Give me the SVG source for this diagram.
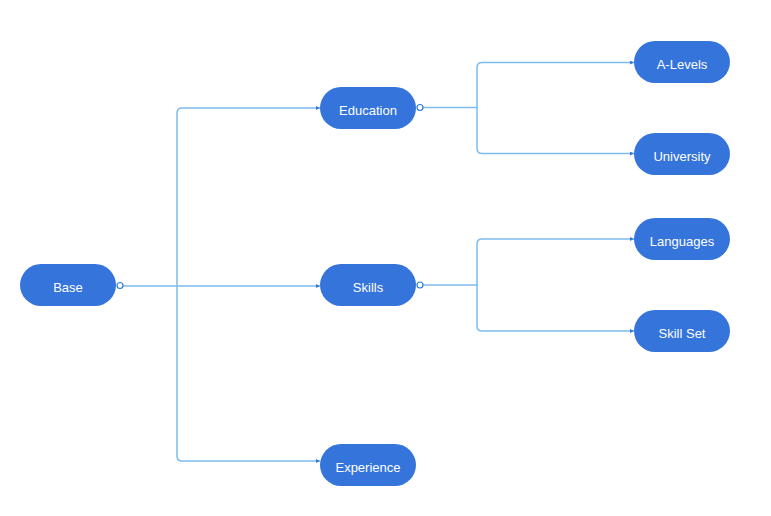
<svg xmlns="http://www.w3.org/2000/svg" width="771" height="516" viewBox="0 0 771 516">
  <style>
    .node rect { fill: #3474db; }
    .node text { fill: #ffffff; font-family: "Liberation Sans", Arial, sans-serif; font-size: 13px; text-anchor: middle; dominant-baseline: central; }
    .link { fill: none; stroke: #7dbbee; stroke-width: 1.5; }
    .port { fill: #ffffff; stroke: #2f7bd9; stroke-width: 1.2; }
  </style>
  <defs>
    <marker id="arrow" viewBox="0 0 6 6" refX="6" refY="3" markerWidth="4" markerHeight="4" orient="auto" markerUnits="userSpaceOnUse">
      <path d="M0,0 L6,3 L0,6 z" fill="#2f7bd9"/>
    </marker>
  </defs>
  <rect width="771" height="516" fill="#ffffff"/>

  <g id="connectors">
    <!-- Base to level 1 -->
    <path class="link" d="M120,286 H320" marker-end="url(#arrow)"/>
    <path class="link" d="M177,286 V113 Q177,108 182,108 H320" marker-end="url(#arrow)"/>
    <path class="link" d="M177,286 V456 Q177,461 182,461 H320" marker-end="url(#arrow)"/>
    <!-- Education to level 2 -->
    <path class="link" d="M420,107.5 H477 V67.5 Q477,62.5 482,62.5 H634" marker-end="url(#arrow)"/>
    <path class="link" d="M477,107.5 V148.5 Q477,153.5 482,153.5 H634" marker-end="url(#arrow)"/>
    <!-- Skills to level 2 -->
    <path class="link" d="M420,285 H477 V244 Q477,239 482,239 H634" marker-end="url(#arrow)"/>
    <path class="link" d="M477,285 V326 Q477,331 482,331 H634" marker-end="url(#arrow)"/>
    <!-- output ports -->
    <circle class="port" cx="120" cy="285.5" r="3"/>
    <circle class="port" cx="420" cy="107.5" r="3"/>
    <circle class="port" cx="420" cy="285" r="3"/>
  </g>

  <g id="base" class="node"><rect x="20" y="264" width="96" height="42" rx="21"/><text x="68" y="287">Base</text></g>
  <g id="education" class="node"><rect x="320" y="87" width="96" height="42" rx="21"/><text x="368" y="110">Education</text></g>
  <g id="skills" class="node"><rect x="320" y="264" width="96" height="42" rx="21"/><text x="368" y="287">Skills</text></g>
  <g id="experience" class="node"><rect x="320" y="444" width="96" height="42" rx="21"/><text x="368" y="467">Experience</text></g>
  <g id="a-levels" class="node"><rect x="634" y="41" width="96" height="42" rx="21"/><text x="682" y="64">A-Levels</text></g>
  <g id="university" class="node"><rect x="634" y="133" width="96" height="42" rx="21"/><text x="682" y="156">University</text></g>
  <g id="languages" class="node"><rect x="634" y="218" width="96" height="42" rx="21"/><text x="682" y="241">Languages</text></g>
  <g id="skill-set" class="node"><rect x="634" y="310" width="96" height="42" rx="21"/><text x="682" y="333">Skill Set</text></g>
</svg>
